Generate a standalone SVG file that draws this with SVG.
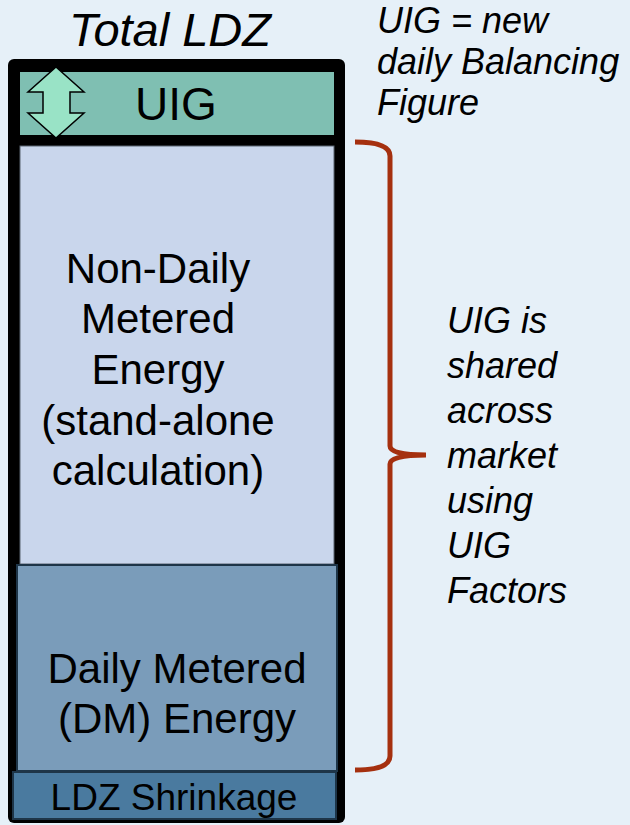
<svg xmlns="http://www.w3.org/2000/svg" width="630" height="825" viewBox="0 0 630 825">
<style>
text{font-family:"Liberation Sans",Arial,sans-serif;fill:#000}
.it{font-style:italic}
.big{font-size:42px}
.side{font-size:36px}
</style>
<rect x="0" y="0" width="630" height="825" fill="#e6f0f8"/>
<g id="frame">
<rect x="8" y="59" width="337" height="764" rx="6" fill="#000"/>
</g>
<g id="title"><text class="it" x="170" y="46" font-size="47" text-anchor="middle">Total LDZ</text></g>
<g id="uig">
<rect x="20" y="72" width="314" height="63" fill="#7fbfb2"/>
<text x="176" y="120" font-size="46" text-anchor="middle">UIG</text>
<path d="M56,67 L84,92 L70,92 L70,113 L84,113 L56,138 L28,113 L43,113 L43,92 L28,92 Z" fill="#99e3c6" stroke="#000" stroke-width="1.5" stroke-linejoin="miter"/>
</g>
<g id="ndm">
<rect x="20" y="146" width="314" height="418" fill="#c9d6ec" stroke="#5a6470" stroke-width="1"/>
<text class="big" text-anchor="middle"><tspan x="158" y="283">Non-Daily</tspan><tspan x="158" y="333">Metered</tspan><tspan x="158" y="384">Energy</tspan><tspan x="158" y="435">(stand-alone</tspan><tspan x="158" y="485">calculation)</tspan></text>
</g>
<g id="dm">
<rect x="17" y="565" width="320" height="206" fill="#7a9cba" stroke="#1e3548" stroke-width="2"/>
<text class="big" text-anchor="middle"><tspan x="177" y="683">Daily Metered</tspan><tspan x="177" y="733">(DM) Energy</tspan></text>
</g>
<g id="shrink">
<rect x="13" y="772" width="323" height="47" fill="#4a7a9f" stroke="#1e3548" stroke-width="2"/>
<text x="174" y="810" font-size="37" text-anchor="middle">LDZ Shrinkage</text>
</g>
<g id="connectors">
<path d="M355,142 Q390,142 390,156 L390,446 Q390,455 426,455 Q390,455 390,464 L390,756 Q390,770 355,770" fill="none" stroke="#a5300f" stroke-width="5"/>
</g>
<g id="note1">
<text class="it side"><tspan x="377" y="33">UIG = new</tspan><tspan x="377" y="74">daily Balancing</tspan><tspan x="377" y="115">Figure</tspan></text>
</g>
<g id="note2">
<text class="it side"><tspan x="447" y="333">UIG is</tspan><tspan x="447" y="378">shared</tspan><tspan x="447" y="423">across</tspan><tspan x="447" y="468">market</tspan><tspan x="447" y="513">using</tspan><tspan x="447" y="558">UIG</tspan><tspan x="447" y="603">Factors</tspan></text>
</g>
</svg>
